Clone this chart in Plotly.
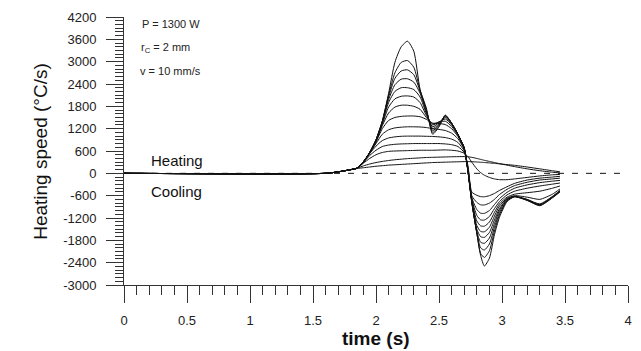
import plotly.graph_objects as go

# time grid (s)
t = [0.0, 1.6, 1.7, 1.8, 1.85, 1.9, 1.95, 2.0, 2.05, 2.1,
     2.15, 2.2, 2.25, 2.3, 2.35, 2.4, 2.45, 2.5, 2.55, 2.6,
     2.65, 2.7, 2.73, 2.76, 2.8, 2.83, 2.86, 2.9, 2.94, 2.98,
     3.04, 3.1, 3.2, 3.3, 3.4, 3.46]

# heating speed curves (°C/s)
c00 = [0,0,40,100,140,310,560,900,1400,2150, 2980,3400,3550,3280,2250,1750,1050,1250,1560,1350, 1050,680,50,-780,-1610,-2200,-2490,-2280,-1650,-1180, -760,-630,-730,-870,-660,-500]
c01 = [0,0,40,100,140,310,560,900,1400,2100, 2700,2980,3030,2850,2230,1700,1100,1270,1560,1350, 1050,680,50,-770,-1600,-2150,-2260,-2080,-1550,-1120, -740,-630,-720,-860,-650,-490]
c02 = [0,0,40,100,140,310,560,900,1390,2050, 2550,2750,2780,2650,2200,1680,1150,1300,1550,1350, 1050,680,50,-760,-1590,-2000,-2060,-1900,-1450,-1060, -720,-625,-715,-850,-640,-480]
c03 = [0,0,40,100,140,310,560,890,1380,1980, 2380,2530,2540,2450,2150,1650,1200,1330,1530,1340, 1050,680,50,-750,-1560,-1850,-1880,-1740,-1350,-1000, -700,-620,-705,-840,-630,-470]
c04 = [0,0,40,100,140,310,560,880,1350,1900, 2200,2300,2300,2250,2050,1600,1250,1360,1500,1330, 1050,680,60,-740,-1500,-1700,-1720,-1590,-1250,-950, -690,-615,-700,-820,-620,-460]
c05 = [0,0,40,100,140,310,555,870,1320,1780, 2000,2070,2080,2050,1900,1550,1300,1380,1460,1300, 1040,680,70,-720,-1400,-1560,-1570,-1450,-1150,-880, -670,-600,-640,-700,-560,-420]
c06 = [0,0,40,100,140,310,550,860,1280,1620, 1780,1830,1830,1800,1720,1500,1330,1380,1400,1260, 1020,670,80,-700,-1280,-1410,-1420,-1310,-1050,-820, -640,-560,-520,-480,-400,-340]
c07 = [0,0,40,100,140,305,545,840,1200,1420, 1500,1530,1540,1540,1520,1450,1350,1340,1310,1200, 990,660,100,-680,-1130,-1250,-1255,-1160,-950,-760, -580,-480,-400,-340,-290,-260]
c08 = [0,0,40,100,140,300,540,800,1050,1170, 1220,1240,1250,1250,1245,1230,1200,1180,1150,1080, 930,640,120,-650,-970,-1070,-1075,-1000,-840,-680, -510,-400,-310,-250,-210,-190]
c09 = [0,0,40,100,140,300,530,730,880,950, 980,995,1000,1000,1000,995,990,980,960,920, 830,600,150,-600,-780,-845,-850,-800,-700,-570, -430,-330,-240,-180,-150,-130]
c10 = [0,0,40,100,140,290,480,620,720,760, 780,790,795,800,800,800,800,800,790,770, 720,560,200,-500,-590,-625,-630,-600,-540,-460, -360,-270,-180,-130,-100,-80]
c11 = [0,0,40,100,140,270,400,500,560,590, 600,605,610,615,620,620,620,625,630,620, 600,540,450,300,120,20,-50,-110,-150,-170, -170,-150,-110,-70,-40,-30]
c12 = [0,0,40,100,140,200,250,290,320,345, 365,380,395,405,415,425,430,435,440,445, 448,450,445,430,400,375,350,320,290,260, 220,180,120,70,30,10]
c13 = [0,0,40,95,130,150,170,190,205,220, 230,240,250,260,270,280,290,295,300,305, 310,315,315,312,305,298,290,280,268,255, 235,215,170,120,70,40]
curves = [c00, c01, c02, c03, c04, c05, c06, c07, c08, c09, c10, c11, c12, c13]

# axis ticks
x_ticks = [0, 0.5, 1, 1.5, 2, 2.5, 3, 3.5, 4]
x_labels = ["0", "0.5", "1", "1.5", "2", "2.5", "3", "3.5", "4"]
y_ticks = [4200, 3600, 3000, 2400, 1800, 1200, 600, 0, -600, -1200, -1800, -2400, -3000]
y_labels = ["4200", "3600", "3000", "2400", "1800", "1200", "600", "0",
            "-600", "-1200", "-1800", "-2400", "-3000"]

FONT = "Liberation Sans, Arial, sans-serif"
INK = "#111111"

fig = go.Figure()
# dashed zero reference line
fig.add_trace(go.Scatter(x=[0, 4], y=[0, 0], mode="lines",
                         line=dict(color=INK, width=1, dash="6px,8px"),
                         hoverinfo="skip", showlegend=False))
for c in curves:
    fig.add_trace(go.Scatter(x=t, y=c, mode="lines",
                             line=dict(color=INK, width=1, shape="spline", smoothing=0.6),
                             showlegend=False))

axis_common = dict(showgrid=False, zeroline=False, showline=True, linecolor="#333333",
                   linewidth=1, ticks="outside", ticklen=17, tickwidth=1, tickcolor="#333333",
                   automargin=False,
                   tickfont=dict(family=FONT, size=13, color="#222222"))

fig.update_xaxes(range=[0, 4], tickvals=x_ticks, ticktext=x_labels,
                 minor=dict(dtick=0.1, tick0=0, ticks="outside", ticklen=9,
                            tickwidth=1, tickcolor="#333333"),
                 ticklabelstandoff=6, **axis_common)
fig.update_yaxes(range=[-3000, 4200], tickvals=y_ticks, ticktext=y_labels,
                 minor=dict(dtick=100, tick0=0, ticks="outside", ticklen=8,
                            tickwidth=1, tickcolor="#333333"),
                 ticklabelstandoff=7, **axis_common)

# axis titles
fig.add_annotation(x=0.5, y=-0.198, xref="paper", yref="paper", text="<b>time (s)</b>",
                   showarrow=False, xanchor="center", yanchor="middle",
                   font=dict(family=FONT, size=19, color="#111111"))
fig.add_annotation(x=-0.167, y=0.5, xref="paper", yref="paper", text="Heating speed (°C/s)",
                   showarrow=False, xanchor="center", yanchor="middle", textangle=-90,
                   font=dict(family=FONT, size=19, color="#111111"))

ann_font = dict(family=FONT, size=11, color="#222222")
fig.add_annotation(x=0.13, y=4000, xref="x", yref="y", text="P = 1300 W", showarrow=False,
                   xanchor="left", yanchor="middle", font=ann_font)
fig.add_annotation(x=0.12, y=3380, xref="x", yref="y", text="r<sub>C</sub> = 2 mm",
                   showarrow=False, xanchor="left", yanchor="middle", font=ann_font)
fig.add_annotation(x=0.11, y=2740, xref="x", yref="y", text="v = 10 mm/s", showarrow=False,
                   xanchor="left", yanchor="middle", font=ann_font)
lab_font = dict(family=FONT, size=15, color="#111111")
fig.add_annotation(x=0.2, y=340, xref="x", yref="y", text="Heating", showarrow=False,
                   xanchor="left", yanchor="middle", font=lab_font)
fig.add_annotation(x=0.2, y=-500, xref="x", yref="y", text="Cooling", showarrow=False,
                   xanchor="left", yanchor="middle", font=lab_font)

# page body adds an 8 px offset; size the figure so the plot area lands where the reference has it
fig.update_layout(width=633, height=343, margin=dict(l=116, r=13, t=9, b=66),
                  paper_bgcolor="white", plot_bgcolor="white", showlegend=False)

fig.write_html("out.html")
